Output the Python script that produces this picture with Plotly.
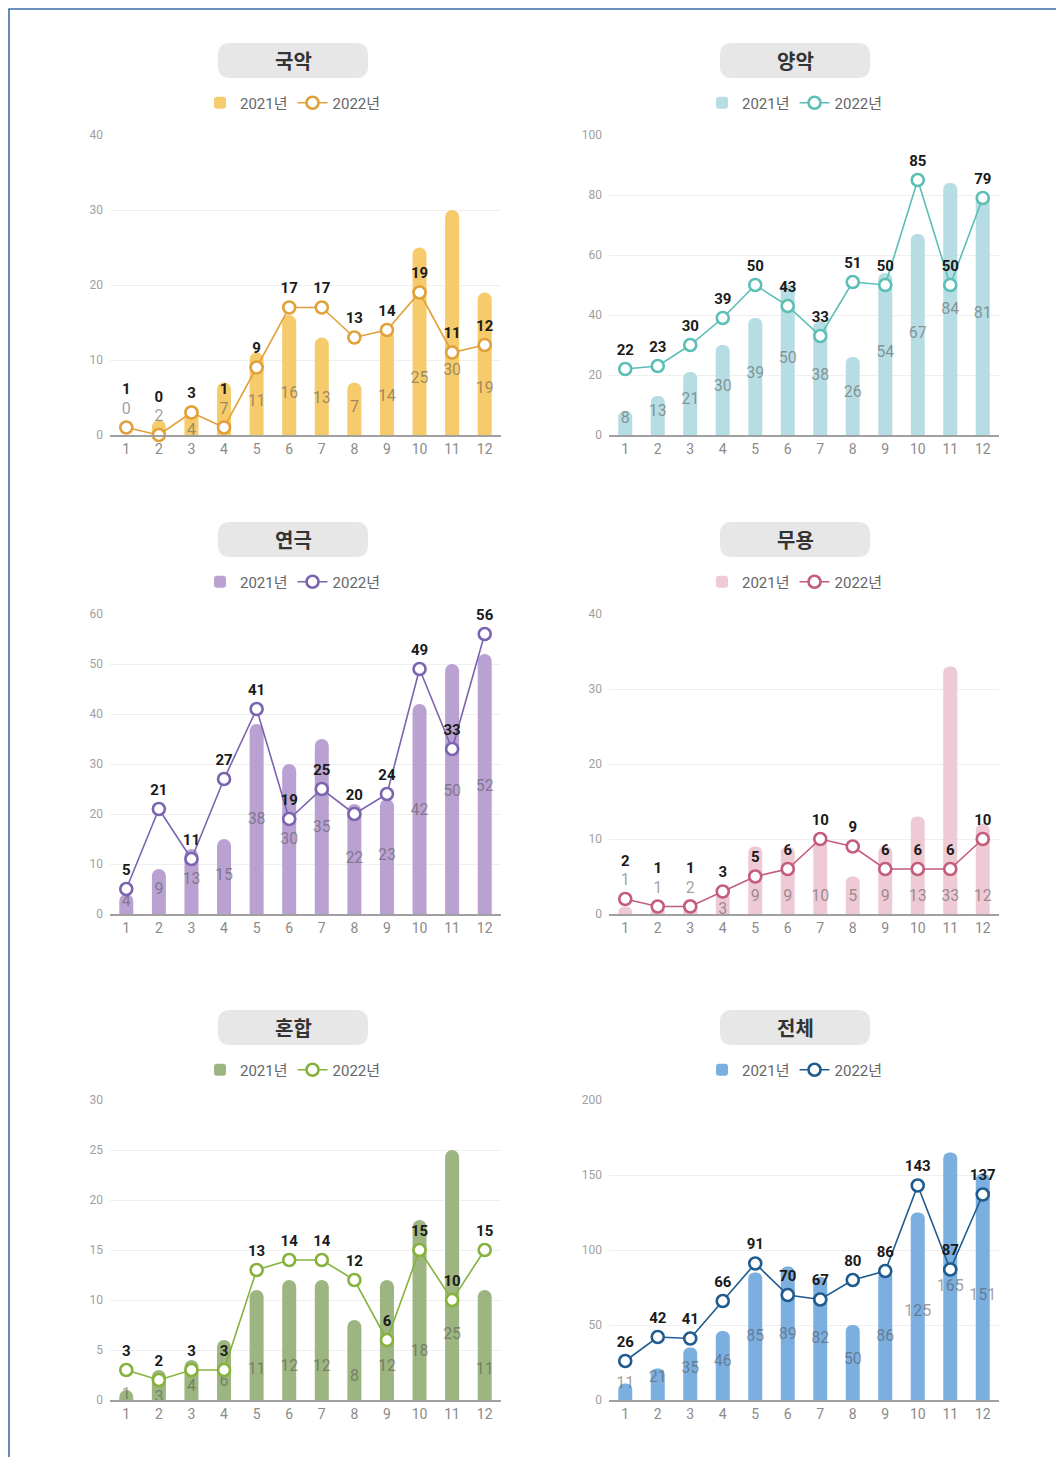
import plotly.graph_objects as go

# page is 1064x1465; the html body adds an 8px margin, so the figure is 16px smaller
PAGE_W, PAGE_H = 1064, 1465
OFF = 8
W, H = PAGE_W - 2 * OFF, PAGE_H - 2 * OFF

months = list(range(1, 13))
month_labels = [str(m) for m in months]

# ---- data ----
gugak_2021 = [0, 2, 4, 7, 11, 16, 13, 7, 14, 25, 30, 19]
gugak_2022 = [1, 0, 3, 1, 9, 17, 17, 13, 14, 19, 11, 12]
yangak_2021 = [8, 13, 21, 30, 39, 50, 38, 26, 54, 67, 84, 81]
yangak_2022 = [22, 23, 30, 39, 50, 43, 33, 51, 50, 85, 50, 79]
theater_2021 = [4, 9, 13, 15, 38, 30, 35, 22, 23, 42, 50, 52]
theater_2022 = [5, 21, 11, 27, 41, 19, 25, 20, 24, 49, 33, 56]
dance_2021 = [1, 1, 2, 3, 9, 9, 10, 5, 9, 13, 33, 12]
dance_2022 = [2, 1, 1, 3, 5, 6, 10, 9, 6, 6, 6, 10]
mixed_2021 = [1, 3, 4, 6, 11, 12, 12, 8, 12, 18, 25, 11]
mixed_2022 = [3, 2, 3, 3, 13, 14, 14, 12, 6, 15, 10, 15]
total_2021 = [11, 21, 35, 46, 85, 89, 82, 50, 86, 125, 165, 151]
total_2022 = [26, 42, 41, 66, 91, 70, 67, 80, 86, 143, 87, 137]

titles = ["국악", "양악", "연극", "무용", "혼합", "전체"]
series_2021 = [gugak_2021, yangak_2021, theater_2021, dance_2021, mixed_2021, total_2021]
series_2022 = [gugak_2022, yangak_2022, theater_2022, dance_2022, mixed_2022, total_2022]
y_max = [40, 100, 60, 40, 30, 200]
y_step = [10, 20, 10, 10, 5, 50]
legend_names = ["2021년", "2022년"]

bar_colors = ["#F6CB6B", "#B6DDE3", "#B9A2D2", "#EECAD4", "#9DB580", "#7AAFE0"]
line_colors = ["#E2A03A", "#5CBFB6", "#7A64B0", "#C45C7C", "#86B23C", "#1F5B8E"]

# where the 2021 value labels sit inside each bar: y = slope * value + base (per panel style)
label_slope = [0.22, 0.48, 0.48, 0.0, 0.25, 0.42]
label_base = [2.0, 1.5, 0.5, 2.3, 0.3, 6.0]

# ---- layout geometry (page pixels) ----
col_x = [(110, 501), (609, 999)]
row_y = [(135, 435), (614, 914), (1100, 1400)]
pill_cx = [293, 795]
pill_top = [43, 522, 1010]
legend_y = [103, 582, 1070]
LABEL_GAP_PX = 18  # distance between a marker and its value label

def px_x(v):
    return (v - OFF) / W

def px_y(v):
    return 1 - (v - OFF) / H

fig = go.Figure()
layout = dict(
    width=W, height=H,
    margin=dict(l=0, r=0, t=0, b=0, pad=0, autoexpand=False),
    paper_bgcolor="white", plot_bgcolor="white",
    barcornerradius=7,
    showlegend=True,
    font=dict(family="Roboto, 'Noto Sans CJK KR', sans-serif"),
)
shapes = []
annotations = []

def pill_path(cx, top, w=150, h=35, r=12):
    x0, x1 = cx - w / 2, cx + w / 2
    y0, y1 = top, top + h
    def P(x, y):
        return f"{px_x(x):.5f},{px_y(y):.5f}"
    return (f"M {P(x0 + r, y0)} L {P(x1 - r, y0)} Q {P(x1, y0)} {P(x1, y0 + r)} "
            f"L {P(x1, y1 - r)} Q {P(x1, y1)} {P(x1 - r, y1)} "
            f"L {P(x0 + r, y1)} Q {P(x0, y1)} {P(x0, y1 - r)} "
            f"L {P(x0, y0 + r)} Q {P(x0, y0)} {P(x0 + r, y0)} Z")

for i in range(6):
    r, c = divmod(i, 2)
    n = i + 1
    xa = "x" if n == 1 else f"x{n}"
    ya = "y" if n == 1 else f"y{n}"
    lg = "legend" if n == 1 else f"legend{n}"
    v21 = series_2021[i]
    v22 = series_2022[i]
    ymax = y_max[i]
    unit_px = (row_y[r][1] - row_y[r][0]) / ymax  # pixels per data unit
    gap = LABEL_GAP_PX / unit_px                    # label gap in data units

    # label placement, avoiding collisions between the two label sets
    lab21, lab22 = [], []
    for a, b in zip(v21, v22):
        y21 = label_slope[i] * a + label_base[i]
        y22 = b + gap
        d_px = (y21 - b) * unit_px
        if -12 < d_px < 30:
            if y21 <= b and b - gap >= 0:
                y21 = b - gap
            else:
                y21 = b + gap
                y22 = b + 2.05 * gap
        lab21.append(y21)
        lab22.append(y22)

    fig.add_trace(go.Bar(
        x=months, y=v21, name=legend_names[0], width=0.43,
        marker=dict(color=bar_colors[i], line=dict(width=0)),
        xaxis=xa, yaxis=ya, legend=lg, hoverinfo="skip",
    ))
    fig.add_trace(go.Scatter(
        x=months, y=lab21, mode="text", text=[str(v) for v in v21],
        textfont=dict(size=16, color="rgba(80,80,80,0.55)", family="Roboto"),
        xaxis=xa, yaxis=ya, showlegend=False, hoverinfo="skip", cliponaxis=False,
    ))
    fig.add_trace(go.Scatter(
        x=months, y=v22, name=legend_names[1], mode="lines+markers",
        line=dict(color=line_colors[i], width=1.6),
        marker=dict(size=12, color="white", line=dict(color=line_colors[i], width=2.6)),
        xaxis=xa, yaxis=ya, legend=lg, cliponaxis=False, hoverinfo="skip",
    ))
    fig.add_trace(go.Scatter(
        x=months, y=lab22, mode="text", text=[f"<b>{v}</b>" for v in v22],
        textfont=dict(size=15, color="#1a1a1a", family="Roboto"),
        xaxis=xa, yaxis=ya, showlegend=False, hoverinfo="skip", cliponaxis=False,
    ))

    xk = "xaxis" if n == 1 else f"xaxis{n}"
    yk = "yaxis" if n == 1 else f"yaxis{n}"
    layout[xk] = dict(
        domain=[px_x(col_x[c][0]), px_x(col_x[c][1])], anchor=ya,
        range=[0.5, 12.5], tickmode="array", tickvals=months, ticktext=month_labels,
        showgrid=False, zeroline=False, showline=True, linecolor="#a0a0a0", linewidth=2,
        ticks="", tickfont=dict(size=14, color="#8a8a8a", family="Roboto"),
        fixedrange=True, automargin=False,
    )
    layout[yk] = dict(
        domain=[px_y(row_y[r][1]), px_y(row_y[r][0])], anchor=xa,
        range=[0, ymax], dtick=y_step[i], tick0=0,
        showgrid=True, gridcolor="#efefef", gridwidth=1, zeroline=False,
        showline=False, ticks="", ticklabelstandoff=6,
        tickfont=dict(size=12, color="#a0a0a0", family="Roboto"),
        fixedrange=True, automargin=False,
    )
    layout[lg] = dict(
        x=px_x(pill_cx[c]), xanchor="center", y=px_y(legend_y[r]), yanchor="middle",
        orientation="h", bgcolor="rgba(0,0,0,0)",
        font=dict(size=15, color="#666666", family="Roboto, 'Noto Sans CJK KR'"),
        itemwidth=30, traceorder="normal", tracegroupgap=0,
    )
    shapes.append(dict(
        type="path", xref="paper", yref="paper", path=pill_path(pill_cx[c], pill_top[r]),
        fillcolor="#E7E7E7", line=dict(width=0), layer="below",
    ))
    annotations.append(dict(
        x=px_x(pill_cx[c]), y=px_y(pill_top[r] + 17.5), xref="paper", yref="paper",
        text=f"<b>{titles[i]}</b>", showarrow=False, xanchor="center", yanchor="middle",
        font=dict(size=20, color="#333333", family="'Noto Sans CJK KR'"),
    ))

# outer frame line
shapes.append(dict(
    type="rect", xref="paper", yref="paper",
    x0=px_x(9), x1=1.05, y0=-0.05, y1=px_y(9),
    line=dict(color="#3D6FA8", width=1.6), fillcolor="rgba(0,0,0,0)", layer="below",
))

layout["shapes"] = shapes
layout["annotations"] = annotations
fig.update_layout(**layout)
fig.write_html("out.html")
